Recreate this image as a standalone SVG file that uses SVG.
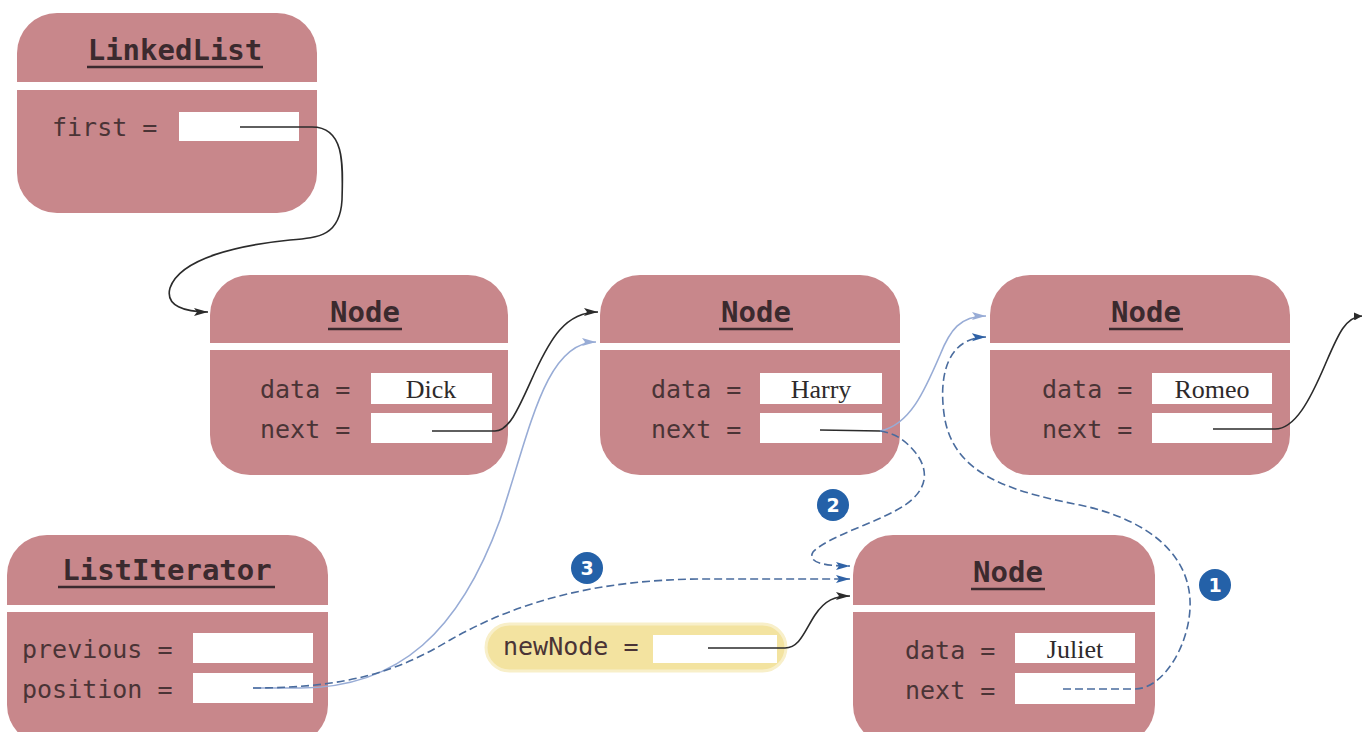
<svg xmlns="http://www.w3.org/2000/svg" width="1366" height="732" viewBox="0 0 1366 732">
<defs>
<style>
.box{fill:#c8878b}
.band{fill:#ffffff}
.field{fill:#ffffff}
.title{font-family:"DejaVu Sans Mono","Liberation Mono",monospace;font-weight:bold;font-size:29px;fill:#3b2a2e;text-anchor:middle}
.ul{stroke:#3b2a2e;stroke-width:2.5}
.lbl{font-family:"DejaVu Sans Mono","Liberation Mono",monospace;font-size:25px;fill:#4a3436}
.val{font-family:"Liberation Serif","Times New Roman",serif;font-size:26px;fill:#2e2a2a;text-anchor:middle}
.blk{fill:none;stroke:#2b2b2b;stroke-width:1.6}
.lite{fill:none;stroke:#98acd6;stroke-width:1.6}
.dash{fill:none;stroke:#4a6c9e;stroke-width:1.6;stroke-dasharray:8 4}
.num{fill:#2461a8}
.numt{font-family:"DejaVu Sans","Liberation Sans",sans-serif;font-weight:bold;font-size:19px;fill:#ffffff;text-anchor:middle}
</style>
<marker id="ab" viewBox="0 0 14 10" refX="14" refY="5" markerWidth="14" markerHeight="10" markerUnits="userSpaceOnUse" orient="auto"><path d="M0,1 L14,5 L0,9 L3,5 z" fill="#2b2b2b"/></marker>
<marker id="al" viewBox="0 0 14 10" refX="14" refY="5" markerWidth="14" markerHeight="10" markerUnits="userSpaceOnUse" orient="auto"><path d="M0,1 L14,5 L0,9 L3,5 z" fill="#98acd6"/></marker>
<marker id="ad" viewBox="0 0 14 10" refX="14" refY="5" markerWidth="14" markerHeight="10" markerUnits="userSpaceOnUse" orient="auto"><path d="M0,1 L14,5 L0,9 L3,5 z" fill="#2f62a6"/></marker>
<marker id="as" viewBox="0 0 8 8" refX="8" refY="4" markerWidth="8" markerHeight="8" markerUnits="userSpaceOnUse" orient="auto"><path d="M0,0 L8,4 L0,8 z" fill="#2b2b2b"/></marker>
</defs>
<rect width="1366" height="732" fill="#ffffff"/>

<g id="linkedlist">
<rect class="box" x="17" y="13" width="300" height="200" rx="40"/>
<rect class="band" x="15" y="82" width="304" height="8"/>
<text class="title" x="175" y="60">LinkedList</text>
<line class="ul" x1="87" y1="67" x2="263" y2="67"/>
<text class="lbl" x="52" y="136">first =</text>
<rect class="field" x="179" y="112" width="120" height="29"/>
</g>

<g id="node-dick">
<rect class="box" x="210" y="275" width="298" height="200" rx="40"/>
<rect class="band" x="208" y="343" width="302" height="7"/>
<text class="title" x="365" y="322">Node</text>
<line class="ul" x1="328" y1="329" x2="402" y2="329"/>
<text class="lbl" x="260" y="398">data =</text>
<text class="lbl" x="260" y="438">next =</text>
<rect class="field" x="371" y="373" width="121" height="31"/>
<rect class="field" x="371" y="413" width="121" height="30"/>
<text class="val" x="431" y="398">Dick</text>
</g>

<g id="node-harry">
<rect class="box" x="600" y="275" width="300" height="200" rx="40"/>
<rect class="band" x="598" y="343" width="304" height="7"/>
<text class="title" x="756" y="322">Node</text>
<line class="ul" x1="719" y1="329" x2="793" y2="329"/>
<text class="lbl" x="651" y="398">data =</text>
<text class="lbl" x="651" y="438">next =</text>
<rect class="field" x="760" y="373" width="122" height="31"/>
<rect class="field" x="760" y="413" width="122" height="30"/>
<text class="val" x="821" y="398">Harry</text>
</g>

<g id="node-romeo">
<rect class="box" x="990" y="275" width="300" height="200" rx="40"/>
<rect class="band" x="988" y="343" width="304" height="7"/>
<text class="title" x="1146" y="322">Node</text>
<line class="ul" x1="1109" y1="329" x2="1183" y2="329"/>
<text class="lbl" x="1042" y="398">data =</text>
<text class="lbl" x="1042" y="438">next =</text>
<rect class="field" x="1152" y="373" width="120" height="31"/>
<rect class="field" x="1152" y="413" width="120" height="30"/>
<text class="val" x="1212" y="398">Romeo</text>
</g>

<g id="node-juliet">
<rect class="box" x="853" y="535" width="302" height="210" rx="40"/>
<rect class="band" x="851" y="605" width="306" height="7"/>
<text class="title" x="1008" y="582">Node</text>
<line class="ul" x1="971" y1="589" x2="1045" y2="589"/>
<text class="lbl" x="905" y="659">data =</text>
<text class="lbl" x="905" y="699">next =</text>
<rect class="field" x="1015" y="633" width="120" height="30"/>
<rect class="field" x="1015" y="673" width="120" height="31"/>
<text class="val" x="1075" y="658">Juliet</text>
</g>

<g id="listiterator">
<rect class="box" x="7" y="535" width="321" height="210" rx="40"/>
<rect class="band" x="5" y="605" width="325" height="7"/>
<text class="title" x="167" y="580">ListIterator</text>
<line class="ul" x1="58" y1="587" x2="275" y2="587"/>
<text class="lbl" x="22" y="658">previous =</text>
<text class="lbl" x="22" y="698">position =</text>
<rect class="field" x="193" y="633" width="120" height="30"/>
<rect class="field" x="193" y="673" width="120" height="30"/>
</g>

<g id="newnode">
<rect x="486" y="624" width="300" height="47" rx="23.5" fill="#f3e3a0" stroke="#f8efc9" stroke-width="3"/>
<text class="lbl" x="503" y="655">newNode =</text>
<rect class="field" x="653" y="635" width="124" height="28"/>
</g>

<g id="connectors">
<path class="blk" d="M240,127 L312,127 C345,127 343,165 342,200 C340,235 320,238 290,240 C240,245 180,258 170,288 C165,306 185,312 208,312" marker-end="url(#ab)"/>
<path class="blk" d="M432,431 L495,431 C510,431 520,405 535,372 C550,340 565,312 598,312" marker-end="url(#ab)"/>
<path class="lite" d="M253,688 L300,688 C400,688 460,630 500,520 C530,430 545,342 596,342" marker-end="url(#al)"/>
<path class="dash" d="M253,688 C350,688 400,670 450,640 C520,600 600,580 700,579 L850,579" marker-end="url(#ad)"/>
<path class="blk" d="M820,430 L880,431"/>
<path class="lite" d="M880,431 C910,425 925,390 940,355 C950,330 960,316 986,316" marker-end="url(#al)"/>
<path class="dash" d="M880,431 C895,433 905,440 915,452 C928,468 930,488 905,505 C880,522 830,535 813,552 C806,564 830,566 850,566" marker-end="url(#ad)"/>
<path class="dash" d="M1063,689 L1135,689 C1165,689 1192,640 1190,600 C1188,555 1150,520 1080,505 C1000,490 955,470 945,420 C938,380 945,338 986,337" marker-end="url(#ad)"/>
<path class="blk" d="M708,648 L785,648 C800,648 805,630 815,615 C825,600 835,596 850,596" marker-end="url(#ab)"/>
<path class="blk" d="M1213,429 L1275,429 C1295,429 1310,400 1325,365 C1338,335 1345,317 1362,316" marker-end="url(#as)"/>
</g>

<g id="step-markers">
<circle class="num" cx="1215" cy="585" r="16"/>
<text class="numt" x="1215" y="592">1</text>
<circle class="num" cx="833" cy="505" r="16"/>
<text class="numt" x="833" y="512">2</text>
<circle class="num" cx="587" cy="568" r="16"/>
<text class="numt" x="587" y="575">3</text>
</g>
</svg>
